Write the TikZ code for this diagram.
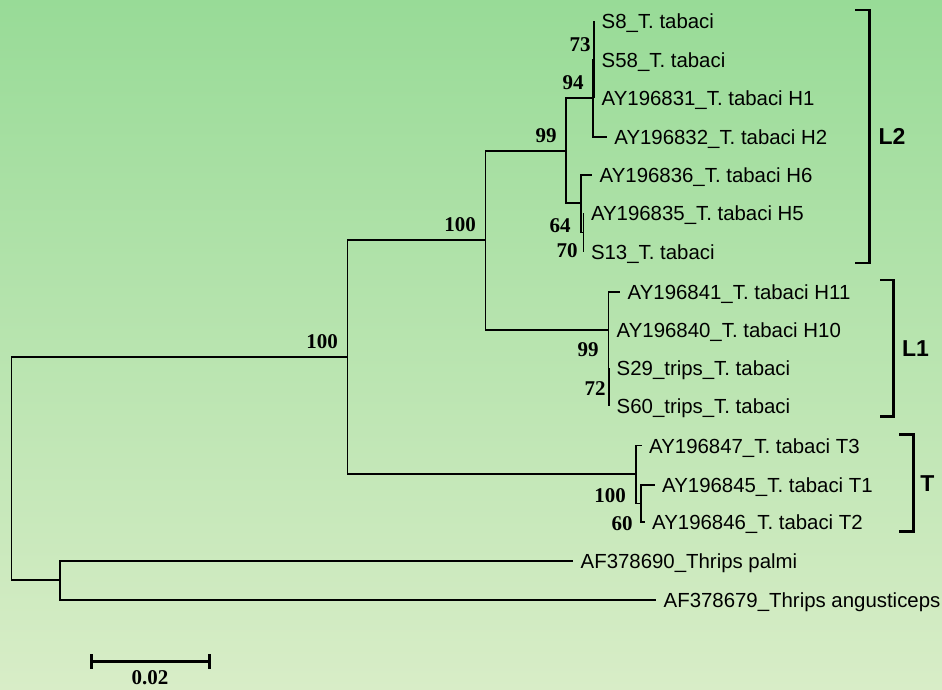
\documentclass[tikz,border=0pt]{standalone}
\usepackage{fontspec}
\setmainfont{Liberation Serif}
\setsansfont{Liberation Sans}
\usetikzlibrary{positioning}
\definecolor{bgtop}{RGB}{152,219,151}
\definecolor{bgbot}{RGB}{216,237,199}
\tikzset{
  branch/.style={line width=1.5pt},
  taxon/.style={inner sep=0pt,text height=14.6pt,text depth=0pt,font=\sffamily\fontsize{20.4}{24}\selectfont},
  boot/.style={inner sep=0pt,text height=14.2pt,text depth=0pt,font=\bfseries\fontsize{21}{24}\selectfont},
  clade/.style={line width=2.7pt},
  cladelab/.style={inner sep=0pt,text height=16.5pt,text depth=0pt,font=\sffamily\bfseries\fontsize{23}{26}\selectfont},
  sbar/.style={line width=3pt}
}

\begin{document}
\begin{tikzpicture}[x=1pt,y=-1pt]
\useasboundingbox (0,0) rectangle (942,689);
\shade[top color=bgtop,bottom color=bgbot] (0,0) rectangle (942,689);

% internal nodes of the tree
\coordinate (root) at (11.7,468.5);
\coordinate (ing) at (347.7,357);
\coordinate (outg) at (60,580);
\coordinate (n100) at (485.7,240);
\coordinate (nL2) at (566,151);
\coordinate (n94) at (593,98);
\coordinate (n73) at (594,59.5);
\coordinate (n64) at (581,203);
\coordinate (n70) at (583.3,232.5);
\coordinate (nL1) at (608.3,330);
\coordinate (n72) at (609,387);
\coordinate (nT) at (636,474);
\coordinate (n60) at (641,503.5);

% tips
\coordinate (t1) at (594,21);
\coordinate (t2) at (594,60);
\coordinate (t3) at (594,98);
\coordinate (t4) at (606.7,137);
\coordinate (t5) at (592,175);
\coordinate (t6) at (583.3,213);
\coordinate (t7) at (583.3,252);
\coordinate (t8) at (620,292);
\coordinate (t9) at (609,330);
\coordinate (t10) at (609,368);
\coordinate (t11) at (609,406);
\coordinate (t12) at (641.5,445.7);
\coordinate (t13) at (654.5,485);
\coordinate (t14) at (644.5,522);
\coordinate (t15) at (573,561);
\coordinate (t16) at (656,600);

% branches
\draw[branch] (root) |- (ing) (root) |- (outg);
\draw[branch] (ing) |- (n100) (ing) |- (nT);
\draw[branch] (n100) |- (nL2) (n100) |- (nL1);
\draw[branch] (nL2) |- (n94) (nL2) |- (n64);
\draw[branch] (n94) |- (n73) (n94) |- (t4);
\draw[branch] (n73) |- (t1) (n73) |- (t2) (n73) |- (t3);
\draw[branch] (n64) |- (t5) (n64) |- (n70);
\draw[branch] (n70) |- (t6) (n70) |- (t7);
\draw[branch] (nL1) |- (t8) (nL1) |- (t9) (nL1) |- (n72);
\draw[branch] (n72) |- (t10) (n72) |- (t11);
\draw[branch] (nT) |- (t12) (nT) |- (n60);
\draw[branch] (n60) |- (t13) (n60) |- (t14);
\draw[branch] (outg) |- (t15) (outg) |- (t16);

% taxon names
\node[taxon,right=7.5pt of t1] (l1) {S8\_T. tabaci};
\node[taxon,right=7.5pt of t2] (l2) {S58\_T. tabaci};
\node[taxon,right=7.5pt of t3] (l3) {AY196831\_T. tabaci H1};
\node[taxon,right=7.5pt of t4] (l4) {AY196832\_T. tabaci H2};
\node[taxon,right=7.5pt of t5] (l5) {AY196836\_T. tabaci H6};
\node[taxon,right=7.5pt of t6] (l6) {AY196835\_T. tabaci H5};
\node[taxon,right=7.5pt of t7] (l7) {S13\_T. tabaci};
\node[taxon,right=7.5pt of t8] (l8) {AY196841\_T. tabaci H11};
\node[taxon,right=7.5pt of t9] (l9) {AY196840\_T. tabaci H10};
\node[taxon,right=7.5pt of t10] (l10) {S29\_trips\_T. tabaci};
\node[taxon,right=7.5pt of t11] (l11) {S60\_trips\_T. tabaci};
\node[taxon,right=7.5pt of t12] (l12) {AY196847\_T. tabaci T3};
\node[taxon,right=7.5pt of t13] (l13) {AY196845\_T. tabaci T1};
\node[taxon,right=7.5pt of t14] (l14) {AY196846\_T. tabaci T2};
\node[taxon,right=7.5pt of t15] (l15) {AF378690\_Thrips palmi};
\node[taxon,right=7.5pt of t16] (l16) {AF378679\_Thrips angusticeps};

% bootstrap values
\node[boot] (b1) at (322,341.7) {100};
\node[boot] (b2) at (460,224) {100};
\node[boot] (b3) at (546,135) {99};
\node[boot] (b4) at (573,82) {94};
\node[boot] (b5) at (580,44) {73};
\node[boot] (b6) at (560,225) {64};
\node[boot] (b7) at (567,250) {70};
\node[boot] (b8) at (588,349) {99};
\node[boot] (b9) at (595,388) {72};
\node[boot] (b10) at (610,495) {100};
\node[boot] (b11) at (622,523) {60};

% clade brackets
\draw[clade] (855,10) -| (869.3,263) -- (855,263);
\node[cladelab] (cL2) at (892,136) {L2};
\draw[clade] (880,280) -| (893.3,416.7) -- (880,416.7);
\node[cladelab] (cL1) at (915.5,348) {L1};
\draw[clade] (899,434.3) -| (913.3,531.7) -- (899,531.7);
\node[cladelab] (cT) at (927.5,483.3) {T};

% scale bar
\draw[sbar] (91.7,661.7) -- (209.3,661.7);
\draw[sbar] (91.7,654) -- (91.7,669) (209.3,654) -- (209.3,669);
\node[boot] (sb) at (150,677) {0.02};
\end{tikzpicture}
\end{document}
